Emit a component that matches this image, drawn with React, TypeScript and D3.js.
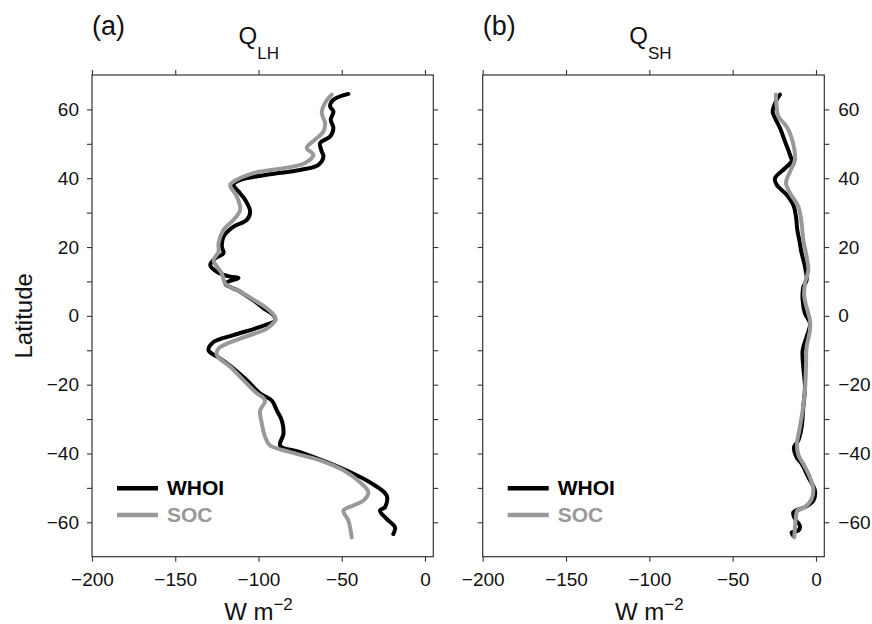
import React, { useEffect, useRef } from "react";
import * as d3 from "d3";

// [value (W m-2), latitude] pairs
const whoiLH: [number, number][] = [
  [-46, 64.5], [-55, 62.8], [-57, 60.9], [-55, 59.4], [-56.6, 57], [-55, 54.6],
  [-57, 52.1], [-63, 50.2], [-62, 47.8], [-61, 46.3], [-64, 43.9], [-75, 42.4],
  [-95, 41], [-111, 39.5], [-115, 38.1], [-111, 35.6], [-108, 33.7], [-105, 30.3],
  [-107, 27.9], [-115, 25.9], [-121, 23], [-122, 20.1], [-121, 18.2], [-126, 16.7],
  [-129, 14.8], [-125, 12.8], [-117, 11.4], [-112, 11], [-120, 9.4], [-111, 7],
  [-102, 4.1], [-97, 2.2], [-91, 0.2], [-90, -1.3], [-99, -3.2], [-115, -5.6],
  [-127, -7.6], [-130, -10], [-123, -12.4], [-115, -15.3], [-107, -18.7], [-99, -22.6],
  [-92, -24.6], [-89, -27.5], [-86, -30.4], [-85, -34.3], [-87, -37.7], [-75, -39.6],
  [-59, -42.5], [-45, -45.4], [-33, -48.4], [-23, -52.2], [-24, -55.6], [-27, -56.6],
  [-23, -59], [-18, -61.5], [-19, -63.4],
];

const socLH: [number, number][] = [
  [-56, 64.3], [-60, 61.9], [-62, 59], [-60, 56], [-61, 53.6], [-66, 51.2],
  [-71, 48.8], [-67, 46.8], [-72, 44.4], [-85, 42.9], [-103, 41.5], [-115, 39],
  [-117, 38], [-113, 34.7], [-111, 30.8], [-115, 27.9], [-121, 25], [-124, 21.1],
  [-124, 18.6], [-127, 16.2], [-125, 14.3], [-122, 12.3], [-120, 9.4], [-111, 7],
  [-101, 4.1], [-95, 2.2], [-90, -0.3], [-90, -1.3], [-95, -3.7], [-111, -6.6],
  [-124, -9.5], [-125, -11.4], [-117, -14.8], [-109, -18.7], [-102, -22.1], [-96, -24.6],
  [-99, -27.5], [-98, -31.3], [-96, -35.2], [-93, -37.7], [-81, -39.6], [-63, -42],
  [-49, -44.9], [-39, -48.4], [-34, -51.3], [-37, -53.7], [-43, -55.1], [-49, -56.6],
  [-46, -59.5], [-44, -64.4],
];

const whoiSH: [number, number][] = [
  [-21.6, 64.3], [-23.6, 62.8], [-26, 59.4], [-24.6, 57.5], [-21.6, 54.6], [-18.6, 50.7],
  [-15.6, 46.8], [-14.6, 44.9], [-18.6, 42.9], [-24.6, 40], [-23.6, 38.1], [-17.6, 35.2],
  [-13.6, 32.2], [-12, 28.8], [-11.2, 25], [-10, 22], [-8.6, 18.2], [-6.6, 14.3],
  [-5.6, 10.4], [-7.6, 8.4], [-8, 4.6], [-6.6, 0.7], [-3.6, -2.2], [-5.6, -6.1],
  [-8, -10], [-7.6, -14.9], [-6.6, -20.7], [-7.6, -26.5], [-8.6, -32.3], [-10.6, -36.2],
  [-13.2, -38.2], [-11.6, -41.1], [-8.6, -43], [-4.6, -46.9], [-0.6, -50.8], [-1.6, -53.7],
  [-6.6, -55.6], [-13.6, -57.1], [-12.6, -59], [-9.6, -61], [-10.6, -62.4], [-14.6, -62.9],
  [-13.6, -63.9],
];

const socSH: [number, number][] = [
  [-24, 64.3], [-23.6, 60.9], [-22.6, 58], [-17.6, 55], [-14.6, 51.7], [-12.6, 45.4],
  [-15.6, 41.9], [-18, 38.6], [-15.6, 35.7], [-10.6, 31.8], [-8.6, 26.9], [-7.6, 22],
  [-5.6, 17.2], [-4.6, 13.3], [-6.6, 9.4], [-7, 5.5], [-4.6, 0.7], [-3.6, -1.3],
  [-3.6, -4.2], [-5.6, -9], [-6, -14.9], [-6.6, -21.6], [-8, -27.5], [-10, -33.3],
  [-11.4, -37.2], [-10.4, -40.6], [-7.6, -43], [-3.6, -46.9], [-1.6, -50.3], [-2.6, -53.2],
  [-6.6, -55.6], [-11.2, -56.6], [-12, -58.5], [-12.6, -61.5], [-13, -64.4],
];

const xTicks = [-200, -150, -100, -50, 0];
const yTicks = [-60, -50, -40, -30, -20, -10, 0, 10, 20, 30, 40, 50, 60];
const seriesNames = ["WHOI", "SOC"];
const seriesColors = ["#000000", "#999999"];

const panels = [
  { tag: "(a)", sub: "LH", left: 92, right: 433.3, labelSide: "left", data: [whoiLH, socLH] },
  { tag: "(b)", sub: "SH", left: 482.7, right: 824.3, labelSide: "right", data: [whoiSH, socSH] },
];

const FONT = "'Liberation Sans', Arial, Helvetica, sans-serif";

const App = () => {
  const svgRef = useRef<SVGSVGElement>(null);

  useEffect(() => {
    const width = 872;
    const height = 624;
    const top = 75;
    const bottom = 556.7;

    const svg = d3.select(svgRef.current);
    svg.selectAll("*").remove();
    svg.attr("width", width).attr("height", height);

    const y = d3.scaleLinear().domain([-70, 70]).range([bottom, top]);
    const fmtY = (d: number) => (d % 20 === 0 ? d3.format("")(d) : "");

    panels.forEach((p) => {
      const x = d3.scaleLinear().domain([-200, 5]).range([p.left, p.right]);
      const g = svg.append("g");

      // axes (ticks outward on all four sides)
      const bottomAxis = g
        .append("g")
        .attr("transform", `translate(0,${bottom})`)
        .call(d3.axisBottom(x).tickValues(xTicks).tickSize(5).tickSizeOuter(0).tickPadding(11));
      g.append("g")
        .attr("transform", `translate(0,${top})`)
        .call(d3.axisTop(x).tickValues(xTicks).tickSize(5).tickSizeOuter(0).tickFormat(() => ""));
      const leftAxis = g
        .append("g")
        .attr("transform", `translate(${p.left},0)`)
        .call(
          d3.axisLeft(y).tickValues(yTicks).tickSize(5).tickSizeOuter(0).tickPadding(8)
            .tickFormat(p.labelSide === "left" ? (fmtY as any) : () => "")
        );
      const rightAxis = g
        .append("g")
        .attr("transform", `translate(${p.right},0)`)
        .call(
          d3.axisRight(y).tickValues(yTicks).tickSize(5).tickSizeOuter(0).tickPadding(9)
            .tickFormat(p.labelSide === "right" ? (fmtY as any) : () => "")
        );
      [bottomAxis, leftAxis, rightAxis].forEach((a) =>
        a.selectAll("text").style("font-family", FONT).style("font-size", "19px").attr("fill", "#111")
      );
      g.selectAll(".domain").remove();
      g.selectAll(".tick line").attr("stroke", "#333").attr("stroke-width", 1.1);

      // frame
      g.append("rect")
        .attr("x", p.left)
        .attr("y", top)
        .attr("width", p.right - p.left)
        .attr("height", bottom - top)
        .attr("fill", "none")
        .attr("stroke", "#333")
        .attr("stroke-width", 1.2);

      // curves, SOC drawn over WHOI
      const line = d3
        .line<[number, number]>()
        .x((d) => x(d[0]))
        .y((d) => y(d[1]))
        .curve(d3.curveCatmullRom.alpha(0.5));

      [0, 1].forEach((i) => {
        g.append("path")
          .datum(p.data[i])
          .attr("d", line)
          .attr("fill", "none")
          .attr("stroke", seriesColors[i])
          .attr("stroke-width", 4)
          .attr("stroke-linejoin", "round")
          .attr("stroke-linecap", "round");
      });

      // legend
      const lx = p.left + 25;
      seriesNames.forEach((name, i) => {
        const ly = 488.3 + i * 26.7;
        g.append("line")
          .attr("x1", lx)
          .attr("x2", lx + 41)
          .attr("y1", ly)
          .attr("y2", ly)
          .attr("stroke", seriesColors[i])
          .attr("stroke-width", 4.5);
        g.append("text")
          .attr("x", lx + 50)
          .attr("y", ly + 7)
          .style("font-family", FONT)
          .style("font-size", "21px")
          .style("font-weight", "bold")
          .attr("fill", seriesColors[i])
          .text(name);
      });

      // panel tag and title
      g.append("text")
        .attr("x", p.left)
        .attr("y", 35)
        .style("font-family", FONT)
        .style("font-size", "27px")
        .attr("fill", "#111")
        .text(p.tag);

      const title = g
        .append("text")
        .attr("x", x(-112))
        .attr("y", 44)
        .style("font-family", FONT)
        .style("font-size", "24px")
        .attr("fill", "#111");
      title.append("tspan").text("Q");
      title.append("tspan").attr("dy", 15).style("font-size", "17px").text(p.sub);

      // x-axis label
      const xl = g
        .append("text")
        .attr("x", x(-100))
        .attr("y", 620)
        .attr("text-anchor", "middle")
        .style("font-family", FONT)
        .style("font-size", "24px")
        .attr("fill", "#111");
      xl.append("tspan").text("W m");
      xl.append("tspan").attr("dy", -10).style("font-size", "17px").text("\u22122");
    });

    // y-axis label
    svg
      .append("text")
      .attr("transform", `translate(32,${y(0)}) rotate(-90)`)
      .attr("text-anchor", "middle")
      .style("font-family", FONT)
      .style("font-size", "24px")
      .attr("fill", "#111")
      .text("Latitude");
  }, []);

  return <svg ref={svgRef} style={{ position: "absolute", left: 0, top: 0 }}></svg>;
};

export default App;
